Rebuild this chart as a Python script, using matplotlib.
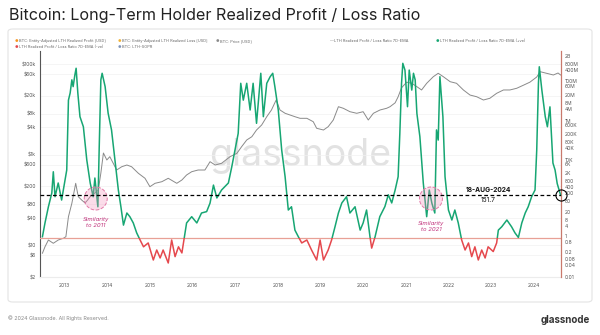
import matplotlib
matplotlib.use('Agg')
import matplotlib.pyplot as plt
from matplotlib.patches import Rectangle, Circle, FancyBboxPatch
from matplotlib.transforms import ScaledTranslation
from matplotlib.ticker import NullLocator

plt.rcParams['font.family'] = ['Inter', 'DejaVu Sans']

# --- data ---
ratio_dates = [
    2012.48, 2012.54, 2012.62, 2012.70, 2012.735, 2012.775, 2012.85, 2012.93, 2013.01, 2013.05,
    2013.09, 2013.13, 2013.17, 2013.20, 2013.24, 2013.27, 2013.31, 2013.36, 2013.44, 2013.52,
    2013.60, 2013.67, 2013.71, 2013.78, 2013.81, 2013.85, 2013.88, 2013.95, 2014.02, 2014.10,
    2014.18, 2014.26, 2014.32, 2014.38, 2014.46, 2014.53, 2014.61, 2014.69, 2014.77, 2014.85,
    2014.96, 2015.08, 2015.16, 2015.24, 2015.31, 2015.43, 2015.51, 2015.59, 2015.67, 2015.75,
    2015.81, 2015.86, 2015.98, 2016.10, 2016.21, 2016.33, 2016.41, 2016.49, 2016.57, 2016.68,
    2016.84, 2016.92, 2016.995, 2017.07, 2017.13, 2017.19, 2017.27, 2017.35, 2017.42, 2017.50,
    2017.60, 2017.66, 2017.74, 2017.82, 2017.88, 2017.93, 2018.01, 2018.09, 2018.17, 2018.245,
    2018.32, 2018.40, 2018.48, 2018.56, 2018.68, 2018.79, 2018.91, 2018.99, 2019.07, 2019.18,
    2019.26, 2019.34, 2019.42, 2019.50, 2019.61, 2019.69, 2019.81, 2019.93, 2020.00, 2020.08,
    2020.16, 2020.20, 2020.28, 2020.39, 2020.51, 2020.59, 2020.67, 2020.75, 2020.82, 2020.86,
    2020.90, 2020.93, 2020.98, 2021.04, 2021.08, 2021.14, 2021.18, 2021.22, 2021.26, 2021.33,
    2021.41, 2021.49, 2021.55, 2021.61, 2021.68, 2021.72, 2021.76, 2021.80, 2021.87, 2021.92,
    2022.00, 2022.08, 2022.15, 2022.23, 2022.31, 2022.39, 2022.47, 2022.545, 2022.62, 2022.70,
    2022.78, 2022.86, 2022.93, 2023.05, 2023.13, 2023.17, 2023.25, 2023.37, 2023.48, 2023.56,
    2023.64, 2023.72, 2023.80, 2023.87, 2023.95, 2024.03, 2024.07, 2024.11, 2024.13, 2024.19,
    2024.27, 2024.32, 2024.38, 2024.45, 2024.50, 2024.55, 2024.60, 2024.63,
]
ratio_values = [
    1.15, 5.8, 39, 197, 2400, 127, 640, 86, 910, 2950,
    1.1e7, 2.55e7, 1.2e8, 5.4e7, 2.1e8, 4.7e8, 2.55e7, 1.57e6, 4.8e5, 9600,
    640, 127, 1150, 39, 31000, 1.2e8, 2.6e8, 5.4e7, 2.4e6, 3.3e5,
    9600, 280, 39, 4.5, 18.7, 12.1, 5.8, 1.8, 0.78, 0.35,
    0.55, 0.074, 0.24, 0.094, 0.24, 0.052, 0.78, 0.11, 0.35, 0.17,
    1.15, 5.8, 12.1, 5.8, 18.7, 22, 60, 500, 110, 280,
    640, 4350, 31000, 2.2e5, 8e7, 1.1e7, 8e7, 3.45e6, 8e7, 7.2e5,
    2.6e8, 1.57e6, 8e7, 1.74e8, 2.6e8, 5.4e7, 3.45e6, 31000, 1340, 26.6,
    39, 2.5, 1.15, 0.55, 0.78, 0.24, 0.074, 0.78, 0.074, 0.24,
    0.78, 3.7, 18.7, 61, 127, 18.7, 39, 2.5, 5.8, 26.6,
    1.15, 0.30, 1.15, 12.1, 40, 160, 61, 280, 1340, 2.2e5,
    8e7, 8.4e8, 3.8e8, 5.1e6, 3.8e8, 3.6e7, 2.6e8, 1.2e8, 2.3e6, 1.5e5,
    640, 12.1, 280, 61, 18.7, 3.3e5, 1e5, 1.74e8, 1.57e6, 1340,
    26.6, 8.2, 26.6, 5.8, 0.78, 0.24, 0.55, 0.11, 0.35, 0.074,
    0.24, 0.094, 0.35, 0.20, 0.55, 2.5, 3.7, 8.2, 3.7, 1.8,
    1.05, 5.8, 18.7, 39, 127, 280, 31000, 8e7, 5.6e8, 3.6e7,
    1.57e6, 4.8e5, 5e6, 6700, 2950, 600, 250, 151.7,
]

price_dates = [
    2012.48, 2012.54, 2012.62, 2012.735, 2012.85, 2012.97, 2013.03, 2013.09, 2013.17, 2013.23,
    2013.26, 2013.32, 2013.40, 2013.48, 2013.54, 2013.60, 2013.71, 2013.79, 2013.85, 2013.91,
    2013.99, 2014.06, 2014.14, 2014.22, 2014.34, 2014.46, 2014.57, 2014.73, 2014.885, 2015.00,
    2015.12, 2015.28, 2015.43, 2015.63, 2015.75, 2015.86, 2015.98, 2016.13, 2016.29, 2016.41,
    2016.53, 2016.68, 2016.88, 2017.04, 2017.15, 2017.27, 2017.39, 2017.50, 2017.62, 2017.74,
    2017.85, 2017.96, 2018.05, 2018.17, 2018.285, 2018.40, 2018.52, 2018.68, 2018.83, 2018.91,
    2019.07, 2019.18, 2019.30, 2019.42, 2019.535, 2019.69, 2019.85, 2020.00, 2020.12, 2020.24,
    2020.395, 2020.55, 2020.63, 2020.75, 2020.82, 2020.90, 2021.02, 2021.14, 2021.26, 2021.37,
    2021.49, 2021.645, 2021.76, 2021.88, 2022.04, 2022.19, 2022.35, 2022.505, 2022.66, 2022.82,
    2022.97, 2023.13, 2023.29, 2023.44, 2023.60, 2023.75, 2023.91, 2024.07, 2024.15, 2024.30,
    2024.46, 2024.57, 2024.63,
]
price_values = [
    6.7, 9.3, 13.1, 11.1, 13.1, 14.3, 15.5, 42.9, 84.7, 167,
    234, 119, 100, 86, 100, 119, 143, 167, 395, 1092,
    766, 906, 647, 460, 544, 593, 544, 389, 302, 197,
    234, 254, 302, 234, 277, 357, 422, 460, 460, 702,
    593, 647, 906, 1076, 1504, 2115, 2500, 3516, 4530, 6916,
    9720, 16150, 9720, 8220, 7540, 6916, 6370, 6370, 5360, 3835,
    3516, 4160, 5845, 11490, 10600, 8915, 8220, 8915, 5845, 8220,
    9720, 10600, 11490, 14000, 19000, 30000, 40000, 37760, 31770, 26900,
    37760, 52800, 62800, 52800, 40950, 37760, 26900, 20800, 19100, 16150,
    17620, 22700, 26900, 26900, 29300, 34000, 40000, 52000, 68100, 62800,
    57600, 63700, 57600,
]

price_ticks = [2, 6, 10, 40, 80, 200, 600, 1000, 4000, 8000, 20000, 60000, 100000]
price_labels = ['$2', '$6', '$10', '$40', '$80', '$200', '$600', '$1k', '$4k', '$8k',
                '$20k', '$60k', '$100k']
ratio_ticks = [0.01, 0.04, 0.08, 0.2, 0.8, 1, 4, 8, 20, 80, 200, 400, 800, 2e3, 6e3, 1e4,
               4e4, 8e4, 2e5, 6e5, 1e6, 4e6, 8e6, 2e7, 6e7, 1e8, 4e8, 8e8, 2e9]
ratio_labels = ['0.01', '0.04', '0.08', '0.2', '0.8', '1', '4', '8', '20', '80', '200', '400',
                '800', '2K', '6K', '10K', '40K', '80K', '200K', '600K', '1M', '4M', '8M', '20M',
                '60M', '100M', '400M', '800M', '2B']
years = list(range(2013, 2025))

last_date = '18-AUG-2024'
last_value = 151.7

legend_items = [
    ('BTC: Entity-Adjusted LTH Realized Profit [USD]', '#f7931a'),
    ('BTC: Entity-Adjusted LTH Realized Loss [USD]', '#f2b233'),
    ('BTC: Price [USD]', '#8a8a8a'),
    ('LTH Realized Profit / Loss Ratio 7D-EMA', None),
    ('LTH Realized Profit / Loss Ratio 7D-EMA (+ve)', '#17a673'),
    ('LTH Realized Profit / Loss Ratio 7D-EMA (-ve)', '#e5484d'),
    ('BTC: LTH-SOPR', '#7d93b8'),
]
legend_pos = [(15, 41), (118, 41), (216, 41), (330, 41), (436, 41), (15, 47), (118, 47)]

GREEN = '#17a673'
RED = '#e5484d'
PINK_TXT = '#c2357d'

W, H = 600, 335
fig = plt.figure(figsize=(6, 3.35), dpi=100)


def fx(px):
    return px / W


def fy(py):
    return 1 - py / H


# card
fig.patches.append(FancyBboxPatch((fx(8), fy(302)), fx(584), (302 - 29) / H,
                                  boxstyle='round,pad=0,rounding_size=0.008',
                                  transform=fig.transFigure, fc='none', ec='#e4e4e4', lw=0.8))

ax = fig.add_axes([fx(40), fy(277), fx(561) - fx(40), fy(51) - fy(277)])
ax2 = ax.twinx()

ax.set_yscale('log')
ax2.set_yscale('log')

# price
ax.plot(price_dates, price_values, color='#8a8a8a', lw=0.7, zorder=2)
ax.text(0.5, 0.535, 'glassnode', transform=ax.transAxes, ha='center', va='center',
        fontsize=27, color='#e2e2e2', zorder=0)

# ratio, green above 1 and red below 1
g, = ax2.plot(ratio_dates, ratio_values, color=GREEN, lw=1.1, zorder=3)
r, = ax2.plot(ratio_dates, ratio_values, color=RED, lw=1.1, zorder=3)
g.set_clip_path(Rectangle((2000, 1), 40, 1e15, transform=ax2.transData))
r.set_clip_path(Rectangle((2000, 1e-6), 40, 1 - 1e-6, transform=ax2.transData))

ax2.axhline(1, color='#e8a096', lw=0.9, zorder=1)
ax2.axhline(last_value, color='black', lw=0.9, ls=(0, (3, 2)), zorder=5)
ax2.plot([ratio_dates[-1]], [last_value], 'o', ms=8, mfc='none', mec='black', mew=0.8,
         clip_on=False, zorder=6)

ax2.annotate(last_date, (2022.93, last_value), xytext=(0, 1.5), textcoords='offset points',
             ha='center', va='bottom', fontsize=4.8, fontweight='bold', color='#111')
ax2.annotate(f'{last_value}', (2022.93, last_value), xytext=(0, -1.5), textcoords='offset points',
             ha='center', va='top', fontsize=4.8, color='#111')

# similarity circles
for t, txt, ty in [(2013.73, 'Similarity\nto 2011', 5.8), (2021.59, 'Similarity\nto 2021', 3.7)]:
    circ = Circle((0, 0), radius=0.115,
                  transform=fig.dpi_scale_trans + ScaledTranslation(t, 103, ax2.transData),
                  fc=(0.95, 0.55, 0.72, 0.3), ec='#e37aa8', ls='--', lw=0.7, zorder=4)
    ax2.add_artist(circ)
    ax2.text(t, ty, txt, ha='center', va='center', fontsize=4.3, style='italic',
             color=PINK_TXT, linespacing=1.25, zorder=6)

# axes limits and ticks
ax.set_xlim(2012.423, 2024.639)
ax.set_ylim(2, 2 * 10 ** (226 / 45.3))
ax2.set_ylim(0.01, 0.01 * 10 ** (226 / 19.56))

ax.set_xticks(years, [str(y) for y in years])
ax.set_yticks(price_ticks, price_labels)
ax2.set_yticks(ratio_ticks, ratio_labels)
ax.yaxis.set_minor_locator(NullLocator())
ax2.yaxis.set_minor_locator(NullLocator())
ax.tick_params(axis='x', length=0, pad=4.5, labelsize=3.6, labelcolor='#555')
ax.tick_params(axis='y', length=0, pad=3, labelsize=3.6, labelcolor='#555')
ax2.tick_params(axis='y', length=0, pad=3, labelsize=3.6, labelcolor='#555')

# the "1" and "0.8" ticks sit very close: nudge their labels apart
for lbl in ax2.get_yticklabels():
    if lbl.get_text() == '1':
        lbl.set_transform(lbl.get_transform() + ScaledTranslation(0, 0.02, fig.dpi_scale_trans))
    elif lbl.get_text() == '0.8':
        lbl.set_transform(lbl.get_transform() + ScaledTranslation(0, -0.02, fig.dpi_scale_trans))

ax.grid(axis='y', color='#f1f1f1', lw=0.5)
for s in ['top', 'right']:
    ax.spines[s].set_visible(False)
ax.spines['bottom'].set_color('#ececec')
ax.spines['left'].set_color('#555')
ax.spines['left'].set_linewidth(0.8)
for s in ['top', 'left', 'bottom']:
    ax2.spines[s].set_visible(False)
ax2.spines['right'].set_color('#c9796c')
ax2.spines['right'].set_linewidth(0.9)

# title, legend, footer
fig.text(fx(9), fy(20), 'Bitcoin: Long-Term Holder Realized Profit / Loss Ratio',
         fontsize=11.6, color='#222', va='baseline')
for (label, col), (px, py) in zip(legend_items, legend_pos):
    if col is None:
        fig.text(fx(px), fy(py), '—', fontsize=2.8, color='#888', va='center')
    else:
        fig.text(fx(px), fy(py), '●', fontsize=2.8, color=col, va='center')
    fig.text(fx(px + 4), fy(py), label, fontsize=2.8, color='#666', va='center')

fig.text(fx(8), fy(318), '© 2024 Glassnode. All Rights Reserved.', fontsize=3.8,
         color='#888', va='center')
fig.text(fx(590), fy(320), 'glassnode', fontsize=7, fontweight='bold', color='#333',
         ha='right', va='center')

fig.savefig('out.png', dpi=100, facecolor='white')
